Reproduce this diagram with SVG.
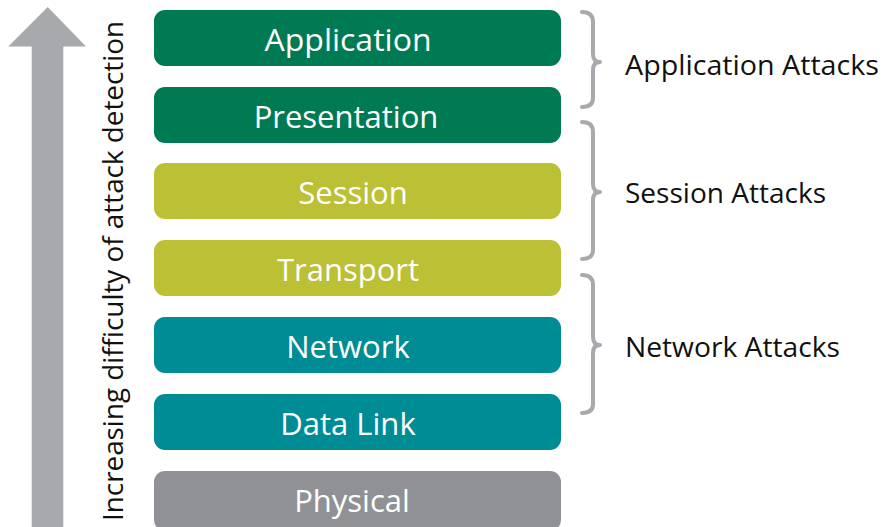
<svg xmlns="http://www.w3.org/2000/svg" width="882" height="527" viewBox="0 0 882 527">
<style>
.box{stroke:none}
.lbl{font-family:"Open Sans","Liberation Sans",sans-serif;font-size:31px;fill:#fff;text-anchor:middle;dominant-baseline:central}
.att{font-family:"Open Sans","Liberation Sans",sans-serif;font-size:27px;fill:#111;dominant-baseline:central}
.brace{fill:none;stroke:#a7a9ac;stroke-width:4;stroke-linecap:round;stroke-linejoin:round}
</style>
<rect width="882" height="527" fill="#fff"/>
<g id="arrow">
<polygon points="47.7,7 86,46.5 63.3,46.5 63.3,527 31.7,527 31.7,46.5 8.3,46.5" fill="#a7a9ac"/>
<text x="0" y="0" transform="translate(112,271) rotate(-90)" font-family="Open Sans,Liberation Sans,sans-serif" font-size="28" fill="#111" text-anchor="middle" dominant-baseline="central" textLength="500" lengthAdjust="spacingAndGlyphs">Increasing difficulty of attack detection</text>
</g>
<g id="application"><rect class="box" x="154" y="10" width="407" height="56" rx="11" fill="#007a53"/><text class="lbl" x="348" y="39" textLength="167" lengthAdjust="spacingAndGlyphs">Application</text></g>
<g id="presentation"><rect class="box" x="154" y="87" width="407" height="56" rx="11" fill="#007a53"/><text class="lbl" x="346" y="116">Presentation</text></g>
<g id="session"><rect class="box" x="154" y="163" width="407" height="56" rx="11" fill="#bcc034"/><text class="lbl" x="353" y="192">Session</text></g>
<g id="transport"><rect class="box" x="154" y="240" width="407" height="56" rx="11" fill="#bcc034"/><text class="lbl" x="348" y="269">Transport</text></g>
<g id="network"><rect class="box" x="154" y="317" width="407" height="56" rx="11" fill="#008c95"/><text class="lbl" x="348" y="346">Network</text></g>
<g id="datalink"><rect class="box" x="154" y="394" width="407" height="56" rx="11" fill="#008c95"/><text class="lbl" x="348" y="423">Data Link</text></g>
<g id="physical"><rect class="box" x="154" y="471" width="407" height="60" rx="11" fill="#8f9195"/><text class="lbl" x="352" y="500">Physical</text></g>
<g id="connectors">
<path class="brace" d="M582,12 Q593,12 593,22 L593,54 Q593,62 600,62 Q593,62 593,70 L593,98 Q593,107 582,107"/>
<path class="brace" d="M582,122 Q593,122 593,132 L593,184 Q593,192 600,192 Q593,192 593,200 L593,250 Q593,259 582,259"/>
<path class="brace" d="M582,275 Q593,275 593,285 L593,337 Q593,345 600,345 Q593,345 593,353 L593,404 Q593,413 582,413"/>
</g>
<g id="labels">
<text class="att" x="625" y="64" textLength="254" lengthAdjust="spacingAndGlyphs">Application Attacks</text>
<text class="att" x="625" y="192" textLength="201" lengthAdjust="spacingAndGlyphs">Session Attacks</text>
<text class="att" x="625" y="346" textLength="215" lengthAdjust="spacingAndGlyphs">Network Attacks</text>
</g>
</svg>
